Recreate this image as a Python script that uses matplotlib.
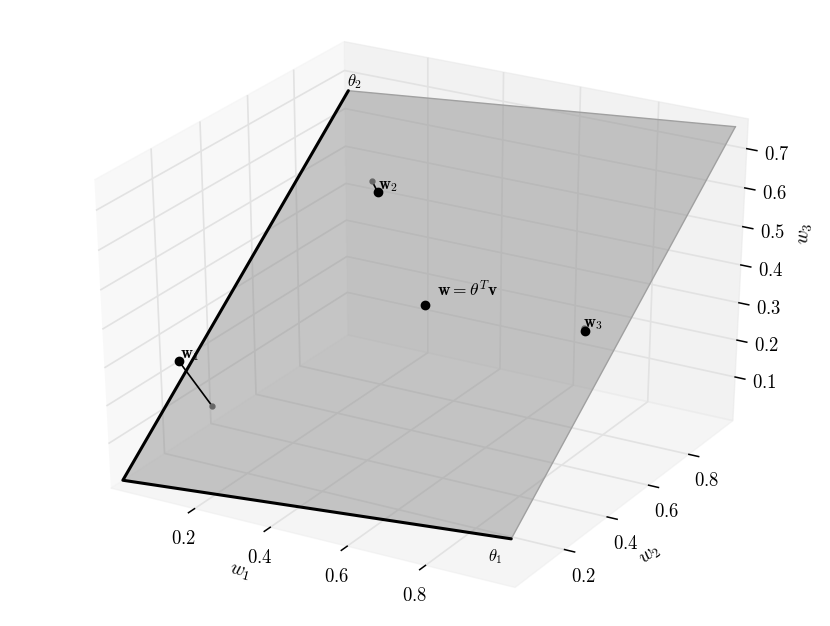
import matplotlib
matplotlib.use('Agg')
import matplotlib.pyplot as plt
from mpl_toolkits.mplot3d.art3d import Poly3DCollection

plt.rcParams['mathtext.fontset'] = 'cm'
plt.rcParams['font.family'] = ['DejaVu Serif']
plt.rcParams['grid.color'] = '#e2e2e2'
plt.rcParams['grid.linewidth'] = 1.2
plt.rcParams['xtick.major.width'] = 1.1
plt.rcParams['ytick.major.width'] = 1.1

# plane corners
origin = [-0.008, 0.0, -0.005]
theta1 = [1.0, 0.0, 0.09]
theta2 = [0.0, 1.0, 0.66]
far_corner = [1.006, 1.0, 0.76]

# points off the plane and their projections on it
w_pts = [[0.098, 0.09, 0.30], [0.191, 0.809, 0.496], [0.906, 0.4985, 0.40]]
w_proj = [[0.11, 0.20, 0.141], [0.188, 0.789, 0.531], [0.905, 0.492, 0.41]]
w_mean = [0.495, 0.502, 0.376]
w_names = [r'$\mathbf{w}_1$', r'$\mathbf{w}_2$', r'$\mathbf{w}_3$']

xy_ticks = [0.2, 0.4, 0.6, 0.8]
z_ticks = [0.1, 0.2, 0.3, 0.4, 0.5, 0.6, 0.7]

fig = plt.figure(figsize=(8.3, 6.26), dpi=100)
ax = fig.add_axes([-0.02, -0.0216, 1.04, 1.04], projection='3d')
ax.apply_aspect = lambda position=None: None  # let the cube stretch with the axes
ax.set_box_aspect((1, 1, 1), zoom=0.909)
ax.computed_zorder = False
ax.view_init(elev=30, azim=-60)

plane = Poly3DCollection([[origin, theta1, far_corner, theta2]], facecolor=(0.53, 0.53, 0.53, 0.45),
                         edgecolor='none', zorder=2)
ax.add_collection3d(plane)
ax.plot(*zip(theta1, far_corner), color='#a0a0a0', lw=1, zorder=3)
ax.plot(*zip(far_corner, theta2), color='#a0a0a0', lw=1, zorder=3)
ax.plot(*zip(theta1, origin, theta2), color='k', lw=2.2, zorder=4, solid_capstyle='round')

label_dx = [0.002, 0.002, -0.006]
for p, q, name, dx in zip(w_pts, w_proj, w_names, label_dx):
    ax.plot(*zip(p, q), color='k', lw=1.2, zorder=5)
    ax.plot(*zip(q), 'o', color='#666666', ms=3.5, zorder=5)
    ax.plot(*zip(p), 'o', color='k', ms=6, zorder=6)
    ax.text(p[0] + dx, p[1], p[2] + 0.008, name, fontsize=12, color='k', zorder=7)

ax.plot(*zip(w_mean), 'o', color='k', ms=6, zorder=6)
ax.text(w_mean[0] + 0.03, w_mean[1], w_mean[2] + 0.028, r'$\mathbf{w}=\theta^T\mathbf{v}$', fontsize=12.5, zorder=7)
ax.text(theta1[0] - 0.058, theta1[1], theta1[2] - 0.074, r'$\theta_1$', fontsize=12, zorder=7)
ax.text(theta2[0] - 0.003, theta2[1], theta2[2] + 0.01, r'$\theta_2$', fontsize=12, zorder=7)

ax.set_xlim(-0.025, 1.025)
ax.set_ylim(-0.025, 1.025)
ax.set_zlim(-0.02, 0.775)
ax.set_xticks(xy_ticks, ['$%.1f$' % t for t in xy_ticks], fontsize=13.5)
ax.set_yticks(xy_ticks, ['$%.1f$' % t for t in xy_ticks], fontsize=13.5)
ax.set_zticks(z_ticks, ['$%.1f$' % t for t in z_ticks], fontsize=13.5)
ax.tick_params(axis='x', pad=5)
ax.tick_params(axis='y', pad=5)
ax.tick_params(axis='z', pad=5.5)

fig.text(240 / 830, 1 - 572 / 626, '$w_1$', fontsize=14, rotation=-15, ha='center', va='center')
fig.text(650 / 830, 1 - 555 / 626, '$w_2$', fontsize=14, rotation=37, ha='center', va='center')
fig.text(806 / 830, 1 - 233 / 626, '$w_3$', fontsize=14, rotation=87, ha='center', va='center')

for axis in (ax.xaxis, ax.yaxis, ax.zaxis):
    axis.line.set_color((1, 1, 1, 0))
    axis._axinfo['tick']['inward_factor'] = 0.3
    axis._axinfo['tick']['outward_factor'] = 0.0

fig.savefig('out.png', dpi=100)
